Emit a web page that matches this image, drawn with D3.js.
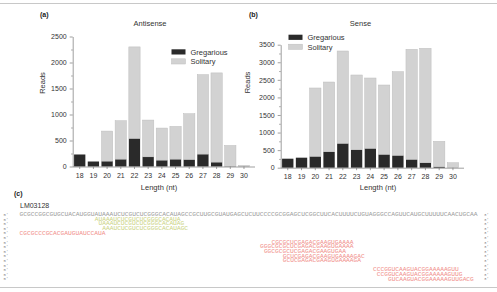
<!DOCTYPE html>
<html>
<head>
<meta charset="utf-8">
<script src="https://cdn.jsdelivr.net/npm/d3@7"></script>
<style>
  body { margin: 0; background: #fff; }
  svg { display: block; font-family: "Liberation Sans", Arial, sans-serif; }
</style>
</head>
<body>
<svg id="fig" width="497" height="292"></svg>
<script>
// read lengths (nt)
var lengths = [18, 19, 20, 21, 22, 23, 24, 25, 26, 27, 28, 29, 30];
// antisense reads
var antiGreg = [231, 96, 103, 141, 540, 186, 122, 141, 135, 238, 84, 5, 0];
var antiSol  = [0, 0, 578, 739, 1760, 707, 617, 630, 880, 1529, 1716, 400, 20];
// sense reads
var senseGreg = [256, 285, 323, 455, 693, 512, 550, 380, 351, 237, 142, 28, 0];
var senseSol  = [0, 0, 1945, 1983, 2628, 2126, 2002, 1973, 2381, 3131, 3255, 722, 142];
var antiTicks = [0, 500, 1000, 1500, 2000, 2500];
var senseTicks = [0, 500, 1000, 1500, 2000, 2500, 3000, 3500];
var seriesNames = ["Gregarious", "Solitary"];

// panel (c) sequences
var refName = "LM03128";
var refSeq = "GCGCCGGCGUGCUACAUGGUAUAAAUCUCGUCUCGGGCACAUAGCCGCUUGCGUAUGAGCUCUUCCCCGCGGAGCUCGGCUUCACUUUUCUGUAGGGCCAGUUCAUGCUUUUUCAACUGCAA";
var senseReads = ["AUAAAUCUCGUCUCGGGCACAUA", "UAAAUCUCGUCUCGGGCACAUAG", "AAAUCUCGUCUCGGGCACAUAGC"];
var senseCols = [20, 21, 22];
var senseRows = [1, 2, 3];
var antiReads = ["CGCGCCCGCACGAUGUAUCCAUA", "CGCGCUCGAGACGAAGUGAAAA", "GGGCGCGCUCGAGACGAAGUGAAAA",
  "GGCGCGCUCGAGACGAAGUGAA", "GCUCGAGACGAAGUGAAAAGAC", "GCUCGAGACGAAGUGAAAAGA",
  "CCCGGUCAAGUACGGAAAAAGUU", "CCGGUCAAGUACGGAAAAAGUUG", "GUCAAGUACGGAAAAAGUUGACG"];
var antiCols = [0, 67, 64, 65, 70, 70, 94, 95, 98];
var antiRows = [4, 6, 7, 8, 9, 10, 12, 13, 14];
var nRows = 15;

var svg = d3.select("#fig");
var colors = ["#2a2a2a", "#d2d2d2"];

// frame lines
svg.append("line").attr("x1", 0).attr("x2", 497).attr("y1", 3.5).attr("y2", 3.5).attr("stroke", "#c8c8c8");
svg.append("line").attr("x1", 0).attr("x2", 497).attr("y1", 287.5).attr("y2", 287.5).attr("stroke", "#c8c8c8");

function panel(o) {
  var g = svg.append("g");
  var x = d3.scaleBand().domain(lengths).range([o.x0, o.x1]).paddingInner(0.175).paddingOuter(0.1);
  var y = d3.scaleLinear().domain([0, o.max]).range([o.y0, o.y1]);

  var rows = lengths.map(function(l, i) { return {len: l, Gregarious: o.greg[i], Solitary: o.sol[i]}; });
  var stack = d3.stack().keys(seriesNames)(rows);

  g.selectAll("g.s").data(stack).enter().append("g")
    .attr("fill", function(d, i) { return colors[i]; })
    .attr("stroke", function(d, i) { return i ? "#bdbdbd" : "none"; })
    .attr("stroke-width", 0.5)
    .selectAll("rect").data(function(d) { return d; }).enter().append("rect")
      .attr("x", function(d) { return x(d.data.len); })
      .attr("width", x.bandwidth())
      .attr("y", function(d) { return y(d[1]); })
      .attr("height", function(d) { return Math.max(0, y(d[0]) - y(d[1])); });

  // y axis
  g.append("g").attr("transform", "translate(" + o.x0 + ",0)")
    .call(d3.axisLeft(y).tickValues(o.ticks).tickFormat(d3.format("d")).tickSize(3).tickPadding(3).tickSizeOuter(0));
  g.append("g").attr("transform", "translate(" + o.x0 + ",0)")
    .call(d3.axisLeft(y).tickValues(d3.range(250, o.max, 500)).tickSize(1.5).tickFormat("").tickSizeOuter(0))
    .select(".domain").remove();
  // x axis
  var xa = g.append("g").attr("transform", "translate(0," + o.y0 + ")")
    .call(d3.axisBottom(x).tickSize(2.5).tickPadding(4).tickSizeOuter(0));
  xa.select(".domain").attr("d", "M" + o.x0 + ",0.5H" + (o.x1 + 4));

  g.selectAll(".domain, .tick line").attr("stroke", "#777").attr("stroke-width", 0.7);
  g.selectAll(".tick text").attr("fill", "#333").style("font-size", "7px").style("font-family", "Liberation Sans, Arial, sans-serif");

  g.append("text").attr("x", o.labX).attr("y", 17).attr("font-size", 7).attr("font-weight", "bold").attr("fill", "#222").text(o.label);
  g.append("text").attr("x", o.titleX).attr("y", 25.5).attr("text-anchor", "middle").attr("font-size", 7.5).attr("fill", "#333").text(o.title);
  g.append("text").attr("transform", "translate(" + o.readsX + "," + o.readsY + ") rotate(-90)")
    .attr("text-anchor", "middle").attr("font-size", 7.5).attr("fill", "#333").text("Reads");
  g.append("text").attr("x", o.lenX).attr("y", 190).attr("text-anchor", "middle").attr("font-size", 7.5).attr("fill", "#333").text("Length (nt)");

  // legend
  seriesNames.forEach(function(n, i) {
    var ly = o.legY + i * 9.5;
    g.append("rect").attr("x", o.legX).attr("y", ly).attr("width", 14).attr("height", 5.2)
      .attr("fill", colors[i]).attr("stroke", i ? "#bdbdbd" : "none").attr("stroke-width", 0.5);
    g.append("text").attr("x", o.legX + 19).attr("y", ly + 5.3).attr("font-size", 7.5).attr("fill", "#333").text(n);
  });
}

panel({x0: 72.7, x1: 251, y0: 166.5, y1: 36.5, max: 2500, ticks: antiTicks, greg: antiGreg, sol: antiSol,
  label: "(a)", labX: 40, title: "Antisense", titleX: 150, readsX: 44.5, readsY: 83, lenX: 159, legX: 171.5, legY: 49.3});
panel({x0: 280.7, x1: 460, y0: 167.7, y1: 44.7, max: 3500, ticks: senseTicks, greg: senseGreg, sol: senseSol,
  label: "(b)", labX: 249, title: "Sense", titleX: 360.5, readsX: 249.5, readsY: 82.5, lenX: 378, legX: 288.5, legY: 34.7});

// panel (c)
var cw = 3.76, sx0 = 19.5, ry0 = 214.3, rowH = 4.6;
svg.append("text").attr("x", 14).attr("y", 196).attr("font-size", 7).attr("font-weight", "bold").attr("fill", "#222").text("(c)");
svg.append("text").attr("x", 20).attr("y", 207.5).attr("font-size", 7).attr("fill", "#333").text(refName);

var c = svg.append("g").style("font-family", "Liberation Mono, DejaVu Sans Mono, monospace").attr("font-size", 5);
function seqText(s, col, row, fill) {
  c.append("text").attr("x", sx0 + col * cw).attr("y", ry0 + row * rowH + 1.8)
    .attr("textLength", s.length * cw - 0.6).attr("lengthAdjust", "spacingAndGlyphs")
    .attr("fill", fill).text(s);
}
seqText(refSeq, 0, 0, "#9a9a9a");
senseReads.forEach(function(s, i) { seqText(s, senseCols[i], senseRows[i], "#c9d27e"); });
antiReads.forEach(function(s, i) { seqText(s, antiCols[i], antiRows[i], "#f08c88"); });

d3.range(nRows).forEach(function(r) {
  c.append("text").attr("x", 3.5).attr("y", ry0 + r * rowH + 1.6).attr("font-size", 4).attr("fill", "#888").text("5'");
  c.append("text").attr("x", 484).attr("y", ry0 + r * rowH + 1.6).attr("font-size", 4).attr("fill", "#888").text("3'");
});
</script>
</body>
</html>
